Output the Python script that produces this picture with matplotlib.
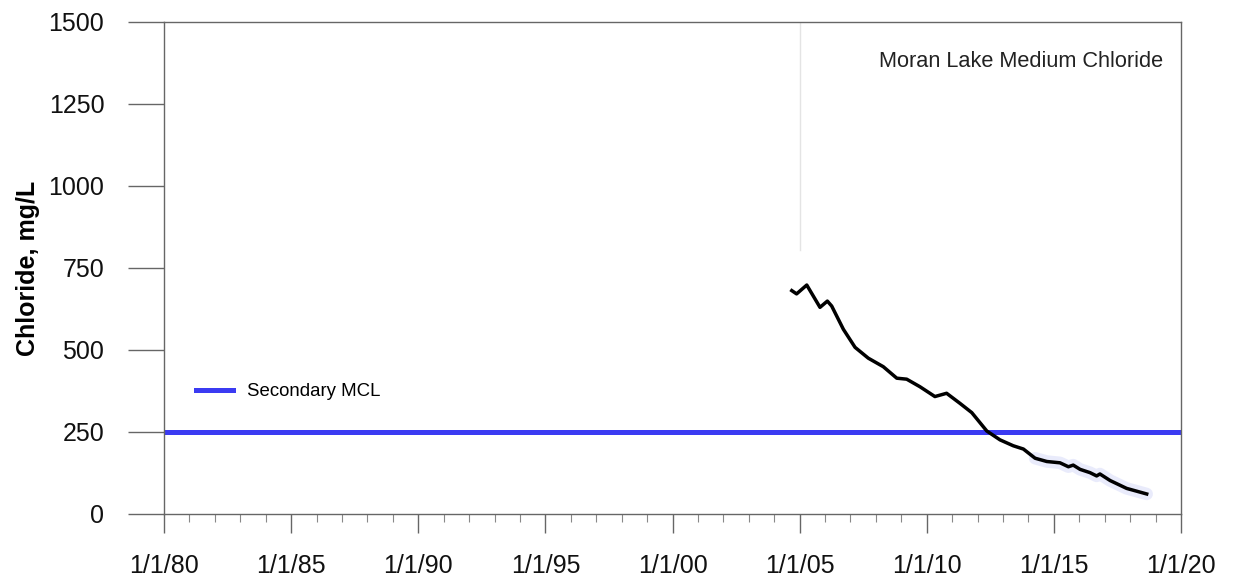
import matplotlib.pyplot as plt
import matplotlib.ticker as ticker

# Moran Lake chloride, medium depth (decimal year, mg/L)
years = [2004.69, 2004.88, 2005.28, 2005.80, 2006.09, 2006.26, 2006.72, 2007.18,
         2007.70, 2008.29, 2008.82, 2009.21, 2009.73, 2010.32, 2010.78, 2011.31,
         2011.77, 2012.36, 2012.88, 2013.40, 2013.80, 2014.26, 2014.72, 2015.24,
         2015.57, 2015.76, 2016.03, 2016.42, 2016.68, 2016.81, 2017.21, 2017.86,
         2018.65]
chloride = [681, 671, 698, 630, 649, 634, 563, 508,
            475, 449, 414, 411, 388, 358, 368, 337,
            309, 253, 226, 208, 198, 170, 160, 156,
            144, 149, 136, 126, 116, 122, 102, 78,
            61]

mcl = 250
xticks = [1980, 1985, 1990, 1995, 2000, 2005, 2010, 2015, 2020]
xlabels = ['1/1/80', '1/1/85', '1/1/90', '1/1/95', '1/1/00',
           '1/1/05', '1/1/10', '1/1/15', '1/1/20']
yticks = [0, 250, 500, 750, 1000, 1250, 1500]

plt.rcParams['font.family'] = ['Liberation Sans', 'DejaVu Sans']

fig = plt.figure(figsize=(12.35, 5.86), dpi=100)
ax = fig.add_axes([0.1328, 0.1229, 0.8235, 0.8396])

# faint vertical line near 2005
ax.axvline(2005, ymin=0.537, ymax=1, color='#e4e4e4', lw=1.0, zorder=0)

ax.axhline(mcl, color='#3b3bf2', lw=3.6, label='Secondary MCL', zorder=2)
# faint blue haze under the tail of the record
ax.plot(years[21:], chloride[21:], color='#a9b0f2', lw=9, alpha=0.25,
        solid_capstyle='round', zorder=2)
ax.plot(years, chloride, color='black', lw=2.5, zorder=3)

ax.set_xlim(1980, 2020)
ax.set_ylim(0, 1500)
ax.set_xticks(xticks)
ax.set_xticklabels(xlabels)
ax.xaxis.set_minor_locator(ticker.MultipleLocator(1))
ax.set_yticks(yticks)

for s in ax.spines.values():
    s.set_color('#666666')
    s.set_linewidth(1.0)

ax.tick_params(axis='y', direction='out', length=26, width=1.0, color='#666666',
               labelsize=18, pad=17, labelcolor='#111111')
ax.tick_params(axis='x', which='major', direction='out', length=14, width=1.0,
               color='#666666', labelsize=18, pad=15, labelcolor='#111111')
ax.tick_params(axis='x', which='minor', direction='out', length=6, width=0.8,
               color='#888888')

ax.set_ylabel('Chloride, mg/L', fontsize=18, fontweight='bold', labelpad=6)

ax.text(0.982, 0.919, 'Moran Lake Medium Chloride', transform=ax.transAxes,
        ha='right', va='center', fontsize=15.7, color='#222222')

leg = ax.legend(loc='upper left', bbox_to_anchor=(0.015, 0.3), frameon=False,
                fontsize=13.4, handlelength=2.0, handletextpad=0.75)

fig.savefig('out.png', dpi=100, facecolor='white')
